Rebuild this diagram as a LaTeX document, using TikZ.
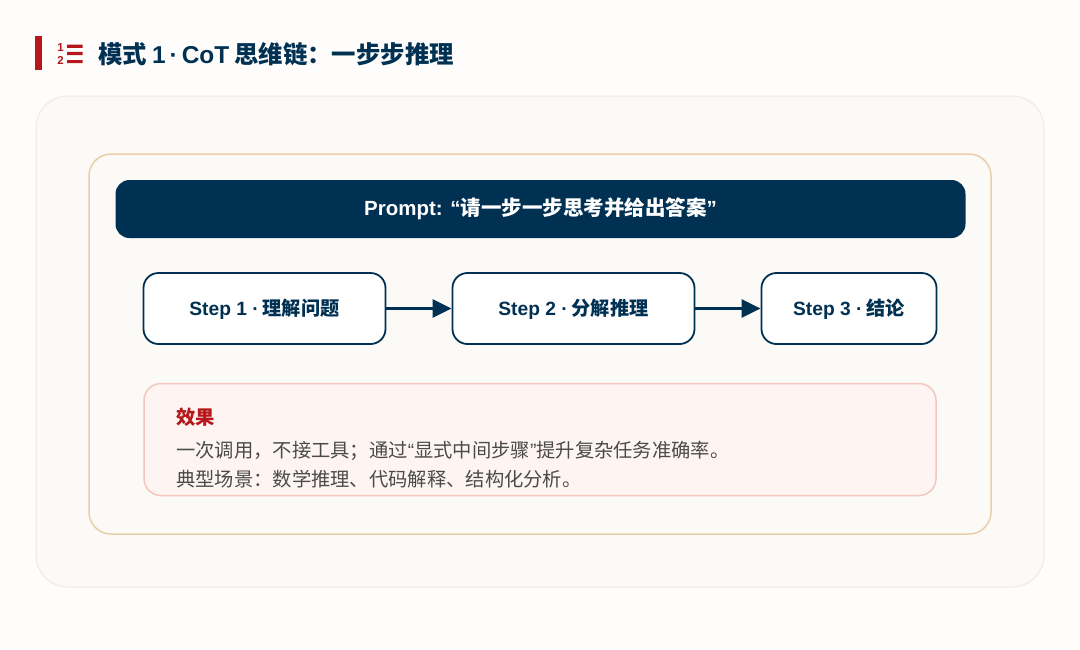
\documentclass[tikz,border=0pt]{standalone}
\usepackage{fontspec}
\setmainfont{Noto Sans CJK SC}
\newfontfamily\cjkfam{Noto Sans CJK SC}
\newfontfamily\latfam{Liberation Sans}
\newcommand{\cjkbold}{\cjkfam\bfseries}
\usetikzlibrary{arrows.meta}
\definecolor{navy}{HTML}{003153}
\definecolor{red1}{HTML}{B5171A}
\definecolor{pagebg}{HTML}{FEFDFB}
\definecolor{outerbg}{HTML}{FDF9F6}
\definecolor{outerln}{HTML}{EFE9E0}
\definecolor{innerbg}{HTML}{FBFAF7}
\definecolor{innerln}{HTML}{E7CFA9}
\definecolor{notebg}{HTML}{FEF5F2}
\definecolor{noteln}{HTML}{F3C6C0}
\definecolor{bodytx}{HTML}{4A4A4A}
\newcommand{\bl}[1]{{\latfam\bfseries #1}}
\newcommand{\rl}[1]{{\latfam #1}}
\tikzset{
 x=1pt,y=-1pt,
 stepbox/.style={draw=navy,line width=1.8pt,fill=white,rounded corners=15pt},
 steptext/.style={text=navy,font=\cjkbold\fontsize{19.2}{22}\selectfont,inner sep=0pt,anchor=center},
 flow/.style={draw=navy,line width=2.6pt,-{Triangle[length=19pt,width=18pt]}},
 bodyline/.style={text=bodytx,font=\fontsize{19.3}{22}\selectfont,inner sep=0pt,anchor=base west},
}
\begin{document}
\begin{tikzpicture}
\useasboundingbox (0,0) rectangle (1080,649);
\fill[pagebg] (0,0) rectangle (1080,649);
% header
\fill[red1] (35,35.5) rectangle (42,70);
\node[inner sep=0pt,anchor=center,text=red1,font=\latfam\bfseries\fontsize{11.5}{11.5}\selectfont] (n1) at (60.5,47.5) {1};
\node[inner sep=0pt,anchor=center,text=red1,font=\latfam\bfseries\fontsize{11.5}{11.5}\selectfont] (n2) at (60.5,60.8) {2};
\fill[red1] (67,44.6) rectangle (82.5,47.8) (67,51.8) rectangle (82.5,55) (67,60) rectangle (82.5,63.2);
\node[inner sep=0pt,anchor=base west,text=navy,font=\cjkbold\fontsize{24.4}{28}\selectfont] (title) at (98,63) {模式\hspace{5pt}\bl{1\,·\,CoT}\hspace{5pt}思维链：一步步推理};
% panels
\node[draw=outerln,line width=1pt,fill=outerbg,rounded corners=32pt,minimum width=1008pt,minimum height=491pt,inner sep=0pt] (outer) at (540,341.5) {};
\node[draw=innerln,line width=1.5pt,fill=innerbg,rounded corners=22pt,minimum width=902pt,minimum height=380pt,inner sep=0pt] (inner) at (540,344) {};
\node[fill=navy,rounded corners=14pt,minimum width=850pt,minimum height=58pt,inner sep=0pt,text=white,font=\cjkbold\fontsize{20.5}{24}\selectfont] (prompt) at (540.5,209) {\bl{Prompt: “}请一步一步思考并给出答案\bl{”}};
% steps
\node[stepbox,minimum width=242pt,minimum height=71pt,inner sep=0pt] (s1) at (264.5,308.5) {};
\node[stepbox,minimum width=242pt,minimum height=71pt,inner sep=0pt] (s2) at (573.5,308.5) {};
\node[stepbox,minimum width=175pt,minimum height=71pt,inner sep=0pt] (s3) at (849,308.5) {};
\node[steptext] (t1) at ([yshift=-0.5pt]s1.center) {\bl{Step 1 ·}\hspace{4pt}理解问题};
\node[steptext] (t2) at ([yshift=-0.5pt]s2.center) {\bl{Step 2 ·}\hspace{4pt}分解推理};
\node[steptext] (t3) at ([yshift=-0.5pt]s3.center) {\bl{Step 3 ·}\hspace{4pt}结论};
\draw[flow] (s1) -- (s2);
\draw[flow] (s2) -- (s3);
% note
\node[draw=noteln,line width=1.5pt,fill=notebg,rounded corners=17pt,minimum width=792pt,minimum height=112pt,inner sep=0pt] (note) at (540,439.5) {};
\node[inner sep=0pt,anchor=base west,text=red1,font=\cjkbold\fontsize{19.3}{22}\selectfont] (nt) at (176,424.5) {效果};
\node[bodyline] (b1) at (176,457.5) {一次调用，不接工具；通过\rl{“}显式中间步骤\rl{”}提升复杂任务准确率。};
\node[bodyline] (b2) at (176,486.5) {典型场景：数学推理、代码解释、结构化分析。};
\end{tikzpicture}
\end{document}
